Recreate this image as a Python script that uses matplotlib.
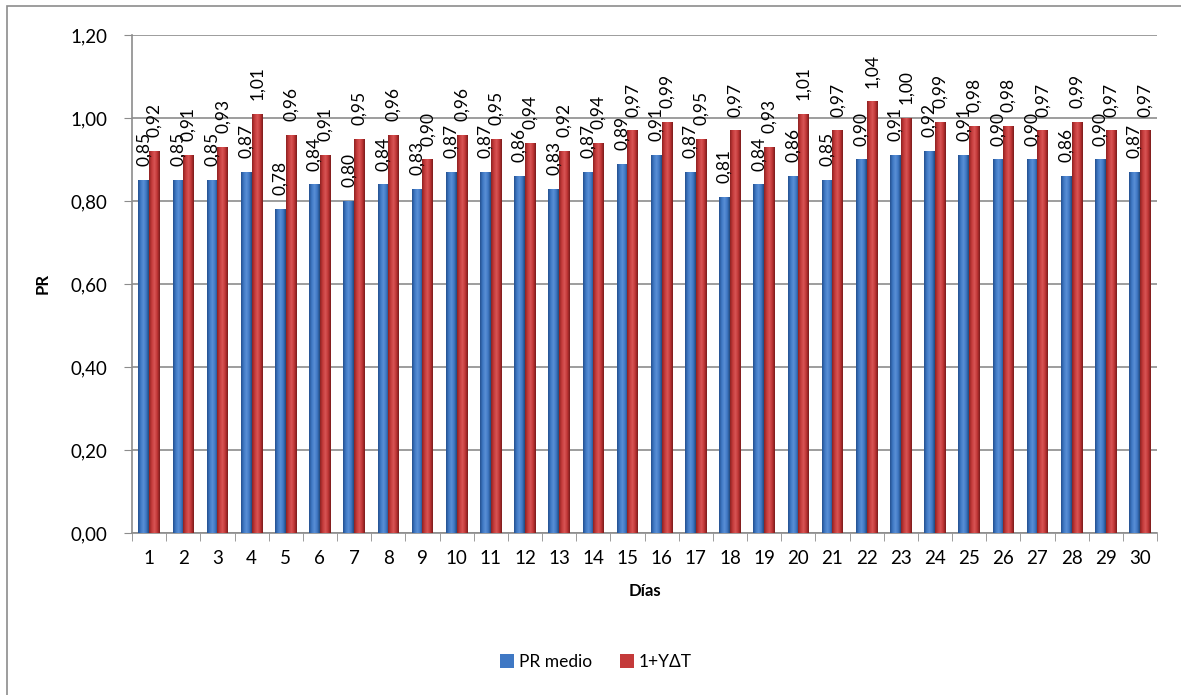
import numpy as np
import matplotlib
matplotlib.use("Agg")
import matplotlib.pyplot as plt
from matplotlib.colors import LinearSegmentedColormap
from matplotlib.patches import Rectangle

plt.rcParams['font.family'] = ['Lato', 'DejaVu Sans']

dias = [str(d) for d in range(1, 31)]
pr_medio = [0.85, 0.85, 0.85, 0.87, 0.78, 0.84, 0.80, 0.84, 0.83, 0.87,
            0.87, 0.86, 0.83, 0.87, 0.89, 0.91, 0.87, 0.81, 0.84, 0.86,
            0.85, 0.90, 0.91, 0.92, 0.91, 0.90, 0.90, 0.86, 0.90, 0.87]
uno_gamma_dt = [0.92, 0.91, 0.93, 1.01, 0.96, 0.91, 0.95, 0.96, 0.90, 0.96,
                0.95, 0.94, 0.92, 0.94, 0.97, 0.99, 0.95, 0.97, 0.93, 1.01,
                0.97, 1.04, 1.00, 0.99, 0.98, 0.98, 0.97, 0.99, 0.97, 0.97]
series_names = ['PR medio', '1+\u03a5\u0394T']

W, H = 1181, 695
fig = plt.figure(figsize=(W / 100, H / 100), dpi=100)
ax = fig.add_axes([132 / W, 1 - 533 / H, (1157 - 132) / W, (533 - 35) / H])

# outer chart frame
fig.patches.append(Rectangle((7 / W, -0.05), 1.2, 1 - 6 / H + 0.05,
                             transform=fig.transFigure, fill=False,
                             edgecolor='#8c8c8c', lw=1.2))

blue_cmap = LinearSegmentedColormap.from_list(
    'b', ['#24508f', '#3f78c4', '#5a8fd6', '#3f78c4', '#21497f'])
red_cmap = LinearSegmentedColormap.from_list(
    'r', ['#8e2222', '#c43a3a', '#d85555', '#c03636', '#7a1b1b'])

x = np.arange(len(dias))
w = 0.31
bars_b = ax.bar(x - w / 2, pr_medio, w, color='#3f78c4', label=series_names[0], zorder=3)
bars_r = ax.bar(x + w / 2, uno_gamma_dt, w, color='#c43a3a', label=series_names[1], zorder=3)

grad = np.linspace(0, 1, 64).reshape(1, -1)
for bars, cmap in ((bars_b, blue_cmap), (bars_r, red_cmap)):
    for p in bars:
        x0, y0 = p.get_x(), p.get_y()
        im = ax.imshow(grad, cmap=cmap, aspect='auto', zorder=4,
                       extent=(x0, x0 + p.get_width(), y0, y0 + p.get_height()))
        im.set_clip_path(p)

for bars, vals in ((bars_b, pr_medio), (bars_r, uno_gamma_dt)):
    for p, v in zip(bars, vals):
        ax.annotate(f'{v:.2f}'.replace('.', ','),
                    (p.get_x() + p.get_width() / 2, v),
                    xytext=(0, 10), textcoords='offset points',
                    rotation=90, ha='center', va='bottom', fontsize=12.5,
                    zorder=6, annotation_clip=False)

ax.set_xlim(-0.5, len(dias) - 0.5)
ax.set_ylim(0, 1.2)
ax.set_yticks(np.arange(0, 1.21, 0.2))
ax.set_yticklabels([f'{t:.2f}'.replace('.', ',') for t in np.arange(0, 1.21, 0.2)])
ax.set_xticks(x)
ax.set_xticklabels(dias)
ax.set_xticks(np.arange(-0.5, len(dias), 1), minor=True)
ax.tick_params(axis='x', which='major', length=0, pad=12, labelsize=13.5)
ax.tick_params(axis='x', which='minor', length=6, color='#8c8c8c', direction='out')
ax.tick_params(axis='y', length=6, color='#8c8c8c', labelsize=13.5, pad=12)

ax.grid(axis='y', color='#8c8c8c', lw=1.2, zorder=0)
ax.set_axisbelow(True)
for s in ('top', 'right'):
    ax.spines[s].set_visible(False)
for s in ('left', 'bottom'):
    ax.spines[s].set_color('#8c8c8c')
    ax.spines[s].set_linewidth(1.2)

ax.set_xlabel('D\u00edas', fontsize=12, fontweight='bold', labelpad=12)
ax.set_ylabel('PR', fontsize=12, fontweight='bold', labelpad=14)

leg = fig.legend(handles=[bars_b, bars_r], labels=series_names, loc='center',
                 bbox_to_anchor=(596 / W, 1 - 662 / H), ncol=2, frameon=False,
                 fontsize=12.5, handlelength=0.8, handleheight=0.8,
                 handletextpad=0.3, columnspacing=1.6)

fig.savefig('out.png', dpi=100)
